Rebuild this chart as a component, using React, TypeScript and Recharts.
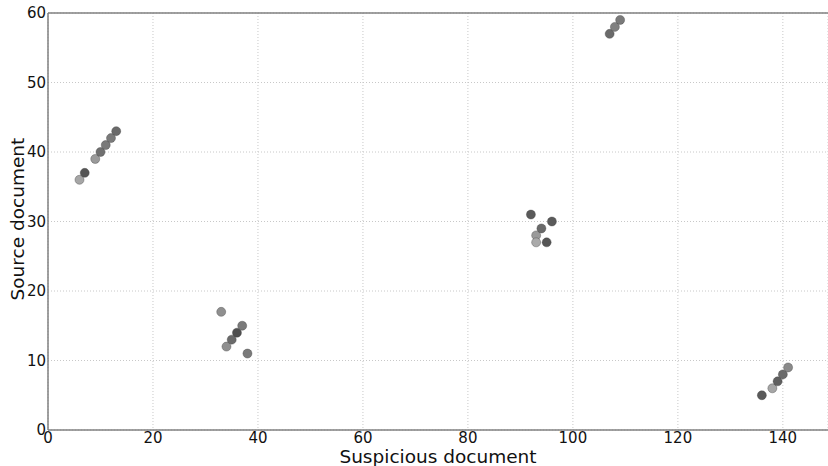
import React from 'react';
import { ScatterChart, Scatter, XAxis, YAxis, CartesianGrid, Cell, ReferenceLine } from 'recharts';

const suspicious = [6, 7, 9, 10, 11, 12, 13, 33, 34, 35, 36, 37, 38, 92, 93, 93, 94, 95, 96, 107, 108, 109, 136, 138, 139, 140, 141];
const source = [36, 37, 39, 40, 41, 42, 43, 17, 12, 13, 14, 15, 11, 31, 28, 27, 29, 27, 30, 57, 58, 59, 5, 6, 7, 8, 9];
const shades = [
  '#a6a6a6', '#555555', '#9a9a9a', '#707070', '#7a7a7a', '#7a7a7a', '#6a6a6a',
  '#8f8f8f', '#8f8f8f', '#6a6a6a', '#4f4f4f', '#7a7a7a', '#7a7a7a',
  '#5a5a5a', '#9a9a9a', '#aaaaaa', '#6a6a6a', '#555555', '#5a5a5a',
  '#6a6a6a', '#808080', '#7a7a7a',
  '#5a5a5a', '#a6a6a6', '#5f5f5f', '#6a6a6a', '#8a8a8a',
];
const xTicks = [0, 20, 40, 60, 80, 100, 120, 140];
const yTicks = [0, 10, 20, 30, 40, 50, 60];

const data = suspicious.map((x, i) => ({ x, y: source[i] }));

const font = 'DejaVu Sans, sans-serif';

export default function App() {
  return (
    <div style={{ position: 'absolute', left: 0, top: 0, width: 828, height: 466, background: '#fff' }}>
      <ScatterChart width={828} height={466} margin={{ top: 13, right: 0, left: 0, bottom: 0 }}>
        <CartesianGrid stroke="#c8c8c8" strokeDasharray="1 2" />
        <XAxis
          type="number"
          dataKey="x"
          domain={[0, 148.6]}
          ticks={xTicks}
          allowDataOverflow
          height={36}
          axisLine={{ stroke: '#808080', strokeWidth: 1.5 }}
          tickLine={false}
          tickSize={0}
          tickMargin={2}
          tick={{ fontSize: 15, fill: '#111', fontFamily: font }}
          label={{ value: 'Suspicious document', position: 'insideBottom', offset: 3, fontSize: 18.5, fill: '#111', fontFamily: font }}
        />
        <YAxis
          type="number"
          dataKey="y"
          domain={[0, 60]}
          ticks={yTicks}
          width={48}
          axisLine={{ stroke: '#808080', strokeWidth: 1.5 }}
          tickLine={false}
          tickSize={0}
          tickMargin={2}
          tick={{ fontSize: 15, fill: '#111', fontFamily: font }}
          label={{ value: 'Source document', angle: -90, position: 'insideLeft', offset: 17, dy: 79, fontSize: 18.5, fill: '#111', fontFamily: font }}
        />
        <ReferenceLine y={60} stroke="#808080" strokeWidth={1.5} />
        <Scatter data={data} isAnimationActive={false} shape="circle">
          {data.map((d, i) => (
            <Cell key={i} fill={shades[i]} stroke="#3a3a3a" strokeOpacity={0.45} strokeWidth={0.8} />
          ))}
        </Scatter>
      </ScatterChart>
    </div>
  );
}
